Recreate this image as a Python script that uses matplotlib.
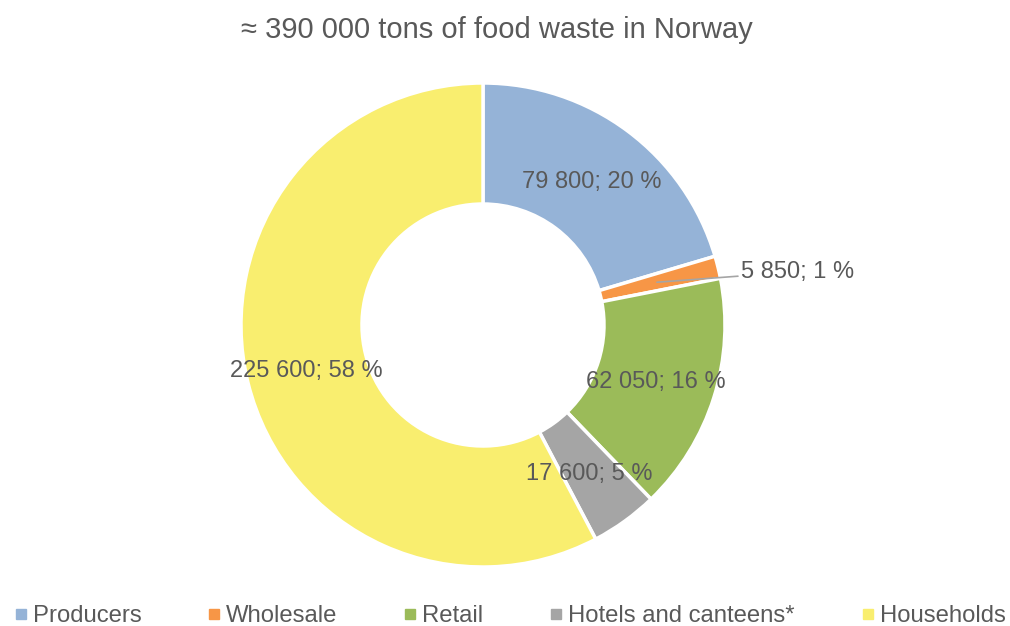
import numpy as np
import matplotlib.pyplot as plt
from matplotlib.lines import Line2D

plt.rcParams['font.family'] = ['Liberation Sans', 'DejaVu Sans']

# Food waste by sector, tons
sectors = ['Producers', 'Wholesale', 'Retail', 'Hotels and canteens*', 'Households']
tons = [79800, 5850, 62050, 17600, 225600]
percents = [20, 1, 16, 5, 58]
colors = ['#95B3D7', '#F79646', '#9BBB59', '#A5A5A5', '#F9EE6F']
text_color = '#595959'

fig = plt.figure(figsize=(10.10, 6.26), dpi=100)

# donut centred at (483, 325) px with radius 242 px
cx, cy, r = 483 / 1010, 1 - 325 / 626, 242
pad = 1.05
w = 2 * r * pad / 1010
h = 2 * r * pad / 626
ax = fig.add_axes([cx - w / 2, cy - h / 2, w, h])

wedges, _ = ax.pie(tons, colors=colors, startangle=90, counterclock=False,
                   radius=1.0, wedgeprops=dict(width=0.5, edgecolor='white', linewidth=2.5))
ax.set_xlim(-pad, pad)
ax.set_ylim(-pad, pad)
ax.set_aspect('equal')
ax.axis('off')

def fmt(v):
    return f'{v:,}'.replace(',', ' ')

for wdg, v, p in zip(wedges, tons, percents):
    mid = np.deg2rad((wdg.theta1 + wdg.theta2) / 2)
    x, y = 0.75 * np.cos(mid), 0.75 * np.sin(mid) - 0.01
    label = f'{fmt(v)}; {p} %'
    if v == 5850:
        # small slice: label outside with a leader line
        ax.annotate(label, xy=(0.74 * np.cos(mid), 0.74 * np.sin(mid)), xytext=(1.065, 0.22),
                    ha='left', va='center', fontsize=17, color=text_color,
                    arrowprops=dict(arrowstyle='-', color='#A5A5A5', lw=1.2,
                                    shrinkA=0, shrinkB=0))
    else:
        ax.text(x, y, label, ha='center', va='center', fontsize=17, color=text_color)

fig.text(0.492, 1 - 30 / 626, '≈ 390 000 tons of food waste in Norway',
         ha='center', va='center', fontsize=21, color=text_color)

handles = [Line2D([], [], marker='s', linestyle='', markersize=6.5, color=c) for c in colors]
leg = fig.legend(handles, sectors, loc='center', bbox_to_anchor=(0.505, 1 - 616 / 626),
                 ncol=5, frameon=False, fontsize=17.2, handlelength=0.5, handletextpad=0.25,
                 columnspacing=2.8, labelcolor=text_color)

fig.savefig('out.png', dpi=100)
